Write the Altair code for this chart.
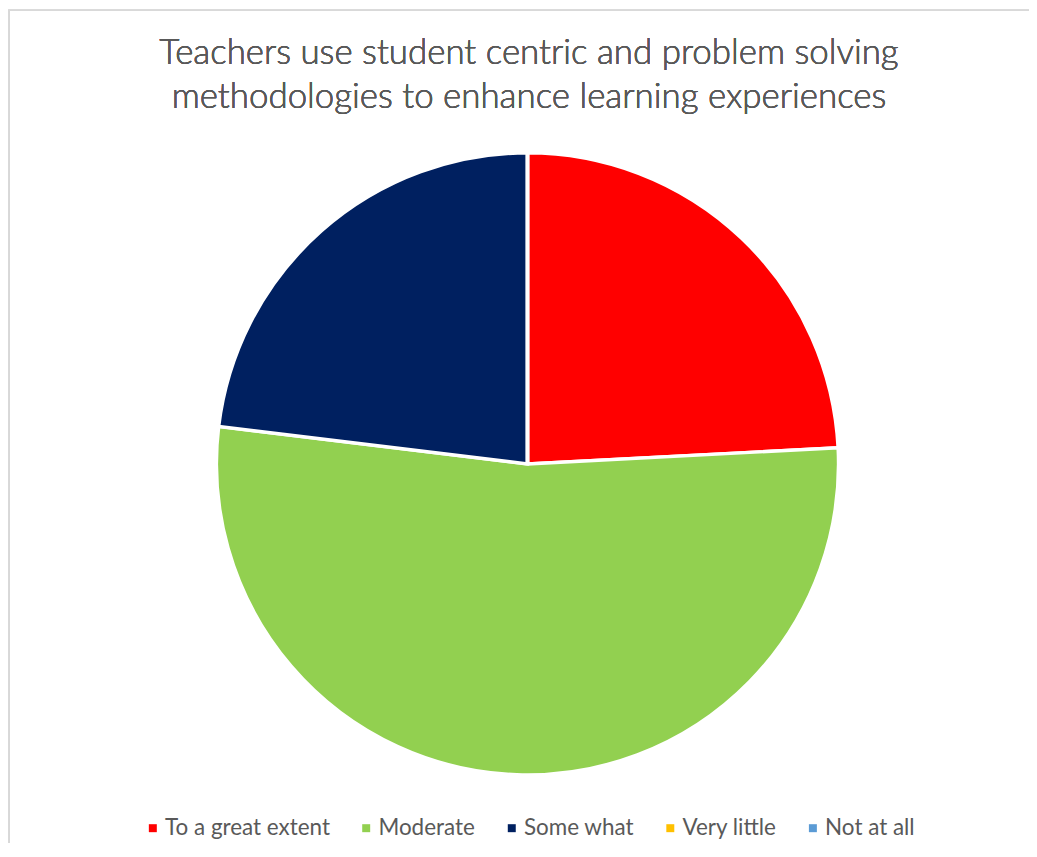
import altair as alt
import pandas as pd

categories = ["To a great extent", "Moderate", "Some what", "Very little", "Not at all"]
counts = [22, 48, 21, 0, 0]
colors = ["#FF0000", "#92D050", "#002060", "#FFC000", "#5B9BD5"]
title_lines = ["Teachers use student centric and problem solving",
               "methodologies to enhance learning experiences"]

df = pd.DataFrame({"category": categories, "count": counts, "order": list(range(len(categories)))})

color_scale = alt.Scale(domain=categories, range=colors)

pie = alt.Chart(df).mark_arc(outerRadius=312, stroke="white", strokeWidth=3.5).encode(
    theta=alt.Theta("count:Q", stack=True),
    order=alt.Order("order:Q", sort="ascending"),
    color=alt.Color(
        "category:N",
        scale=color_scale,
        sort=categories,
        legend=alt.Legend(
            title=None,
            orient="none",
            direction="horizontal",
            legendX=130,
            legendY=680,
            symbolType="square",
            symbolSize=64,
            symbolStrokeWidth=0,
            labelFont="Lato",
            labelFontSize=22.5,
            labelColor="#595959",
            labelOffset=1,
            labelLimit=400,
            columnPadding=25,
            padding=0,
        ),
    ),
    x=alt.value(517),
    y=alt.value(326),
)

frame = alt.Chart(df).mark_rect(fill=None, stroke="#D9D9D9", strokeWidth=1.5).encode(
    x=alt.value(-3),
    x2=alt.value(1200),
    y=alt.value(-129),
    y2=alt.value(1000),
)

title = alt.Chart(df).mark_text(
    font="Lato",
    fontSize=35,
    fontWeight=300,
    color="#595959",
    align="center",
    baseline="alphabetic",
    lineHeight=44,
).encode(
    text=alt.value(title_lines),
    x=alt.value(518.5),
    y=alt.value(-75),
)

chart = alt.layer(frame, pie, title).properties(
    width=1020,
    height=705,
    padding={"left": 4, "top": 130, "right": 0, "bottom": 0},
    autosize=alt.AutoSizeParams(type="none"),
).configure_view(stroke=None)

chart.save("out.html", embed_options={"renderer": "svg", "actions": False})
